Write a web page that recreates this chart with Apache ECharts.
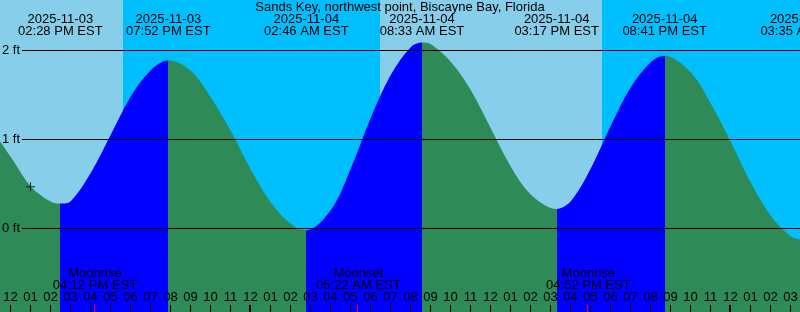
<!DOCTYPE html>
<html>
<head>
<meta charset="utf-8">
<script src="https://cdn.jsdelivr.net/npm/echarts@6/dist/echarts.min.js"></script>
<style>
html,body{margin:0;padding:0;background:#87CEEB;}
#c{width:800px;height:312px;}
</style>
</head>
<body>
<div id="c"></div>
<script>
// ---------- data (times are hours since 2025-11-03 00:00 EST) ----------
const chartTitle = 'Sands Key, northwest point, Biscayne Bay, Florida';

const sampleHours = [11.45, 12, 13, 14, 15, 16, 17, 18, 19, 21, 22, 23, 24, 25, 26,
  28, 29, 30, 31, 32, 33, 34, 35, 36, 37, 38, 40, 41, 42, 43, 44, 46, 47, 48, 49, 50, 51];
const sampleFeet = [0.98, 0.80, 0.47, 0.30, 0.31, 0.63, 1.06, 1.49, 1.78, 1.77, 1.47, 1.09, 0.66, 0.29, 0.05,
  0.21, 0.68, 1.25, 1.73, 2.04, 2.07, 1.87, 1.55, 1.12, 0.69, 0.38, 0.31, 0.68, 1.16, 1.59, 1.87, 1.75, 1.40, 0.97, 0.51, 0.14, -0.09];

const extremeHours = [14.467, 19.867, 26.767, 32.55, 39.283, 44.683, 51.583];
const extremeFeet  = [0.28, 1.89, -0.02, 2.09, 0.22, 1.94, -0.13];
const extremeKinds = ['low', 'high', 'low', 'high', 'low', 'high', 'low'];
const extremeDates = ['2025-11-03', '2025-11-03', '2025-11-04', '2025-11-04', '2025-11-04', '2025-11-04', '2025-11-05'];
const extremeTimes = ['02:28 PM EST', '07:52 PM EST', '02:46 AM EST', '08:33 AM EST', '03:17 PM EST', '08:41 PM EST', '03:35 AM EST'];

const nightStart = [17.6, 41.55];
const nightEnd   = [30.45, 54.47];

const moonHours = [16.2, 29.367, 40.867];
const moonNames = ['Moonrise', 'Moonset', 'Moonrise'];
const moonTimes = ['04:12 PM EST', '05:22 AM EST', '04:52 PM EST'];

const hourTicks = [12, 13, 14, 15, 16, 17, 18, 19, 20, 21, 22, 23, 24, 25, 26, 27, 28, 29, 30, 31,
  32, 33, 34, 35, 36, 37, 38, 39, 40, 41, 42, 43, 44, 45, 46, 47, 48, 49, 50, 51];
const hourLabels = ['12', '01', '02', '03', '04', '05', '06', '07', '08', '09', '10', '11',
  '12', '01', '02', '03', '04', '05', '06', '07', '08', '09', '10', '11',
  '12', '01', '02', '03', '04', '05', '06', '07', '08', '09', '10', '11',
  '12', '01', '02', '03'];
const midnightHours = [24, 48];

const levelFeet = [0, 1, 2];
const levelLabels = ['0 ft', '1 ft', '2 ft'];

const nowMark = [12.975, 0.47];

// ---------- styling / layout ----------
const DAY = '#87CEEB', NIGHT = '#00BFFF', RISE = '#0000FF', FALL = '#2E8B57';
const FONT = '13px "Liberation Sans", Arial, sans-serif';
const X_MIN = 11.45, X_MAX = 51.45;
const Y_MIN = -0.93820, Y_MAX = 2.56742;

const tideData = sampleHours.map((h, i) => [h, sampleFeet[i]])
  .concat(extremeHours.map((h, i) => [h, extremeFeet[i]]))
  .sort((a, b) => a[0] - b[0]);

const n = extremeHours.length;
const pieces = [];
pieces.push({ lt: extremeHours[0], color: extremeKinds[0] === 'low' ? FALL : RISE });
for (let i = 0; i < n - 1; i++) {
  pieces.push({ gte: extremeHours[i], lt: extremeHours[i + 1], color: extremeKinds[i] === 'low' ? RISE : FALL });
}
pieces.push({ gte: extremeHours[n - 1], color: extremeKinds[n - 1] === 'low' ? RISE : FALL });

function txt(x, y, text, align) {
  return {
    type: 'text', x: x, y: y, silent: true,
    style: { text: text, font: FONT, fill: '#000',
      align: align || 'center', textAlign: align || 'center',
      verticalAlign: 'middle', textVerticalAlign: 'middle' }
  };
}
function col(px) { return Math.round(px) - 1; }

const chart = echarts.init(document.getElementById('c'), null, { renderer: 'canvas', width: 800, height: 312 });
chart.setOption({
  animation: false,
  backgroundColor: DAY,
  grid: { left: 0, right: 0, top: 0, bottom: 0, containLabel: false },
  xAxis: { type: 'value', min: X_MIN, max: X_MAX, show: false },
  yAxis: { type: 'value', min: Y_MIN, max: Y_MAX, show: false },
  visualMap: { type: 'piecewise', show: false, dimension: 0, seriesIndex: 1, pieces: pieces },
  graphic: [ Object.assign(txt(400, 7.7, chartTitle, 'center'), { z: 100 }) ],
  series: [
    { // night shading
      type: 'custom', z: 1, silent: true,
      data: nightStart.map((s, i) => [s, nightEnd[i]]),
      renderItem: function (params, api) {
        const a = api.coord([api.value(0), Y_MAX]);
        const b = api.coord([api.value(1), Y_MIN]);
        return { type: 'rect', shape: { x: a[0], y: a[1], width: b[0] - a[0], height: b[1] - a[1] },
          style: { fill: NIGHT } };
      }
    },
    { // tide curve
      type: 'line', z: 2, silent: true,
      data: tideData, smooth: 0.34, showSymbol: false, symbol: 'none',
      lineStyle: { width: 0 },
      areaStyle: { opacity: 1, origin: 'start' }
    },
    { // level lines
      type: 'custom', z: 3, silent: true,
      data: levelFeet.map(v => [X_MIN, v]),
      renderItem: function (params, api) {
        const p = api.coord([X_MIN, api.value(1)]);
        const y = Math.floor(p[1]) + 0.5;
        return { type: 'group', children: [
          { type: 'line', shape: { x1: 22, y1: y, x2: api.getWidth(), y2: y }, style: { stroke: '#000', lineWidth: 1 } },
          txt(20, y, levelLabels[params.dataIndex], 'right')
        ] };
      }
    },
    { // hour ticks and labels
      type: 'custom', z: 4, silent: true,
      data: hourTicks.map(h => [h, Y_MIN]),
      renderItem: function (params, api) {
        const px = api.coord([api.value(0), Y_MIN])[0];
        const c = col(px);
        const h = api.getHeight();
        const thick = midnightHours.indexOf(api.value(0)) >= 0;
        return { type: 'group', children: [
          { type: 'rect', shape: { x: thick ? c - 1 : c, y: h - 7, width: thick ? 2 : 1, height: 7 }, style: { fill: '#000' } },
          txt(c + 0.5, 297.5, hourLabels[params.dataIndex], 'center')
        ] };
      }
    },
    { // moon events
      type: 'custom', z: 4, silent: true,
      data: moonHours.map(h => [h, Y_MIN]),
      renderItem: function (params, api) {
        const px = api.coord([api.value(0), Y_MIN])[0];
        const c = col(px);
        const h = api.getHeight();
        return { type: 'group', children: [
          { type: 'rect', shape: { x: c, y: h - 7, width: 1, height: 7 }, style: { fill: '#FF0000' } },
          txt(px, 273.8, moonNames[params.dataIndex], 'center'),
          txt(px, 285.3, moonTimes[params.dataIndex], 'center')
        ] };
      }
    },
    { // extreme labels
      type: 'custom', z: 4, silent: true,
      data: extremeHours.map((h, i) => [h, extremeFeet[i]]),
      renderItem: function (params, api) {
        const px = api.coord([api.value(0), api.value(1)])[0];
        return { type: 'group', children: [
          txt(px, 19.5, extremeDates[params.dataIndex], 'center'),
          txt(px, 31.5, extremeTimes[params.dataIndex], 'center')
        ] };
      }
    },
    { // current-time marker
      type: 'scatter', z: 5, silent: true,
      data: [nowMark],
      symbol: 'path://M4,0L5,0L5,9L4,9ZM0,4L9,4L9,5L0,5Z',
      symbolSize: 9,
      itemStyle: { color: '#000' }
    }
  ]
});
</script>
</body>
</html>
